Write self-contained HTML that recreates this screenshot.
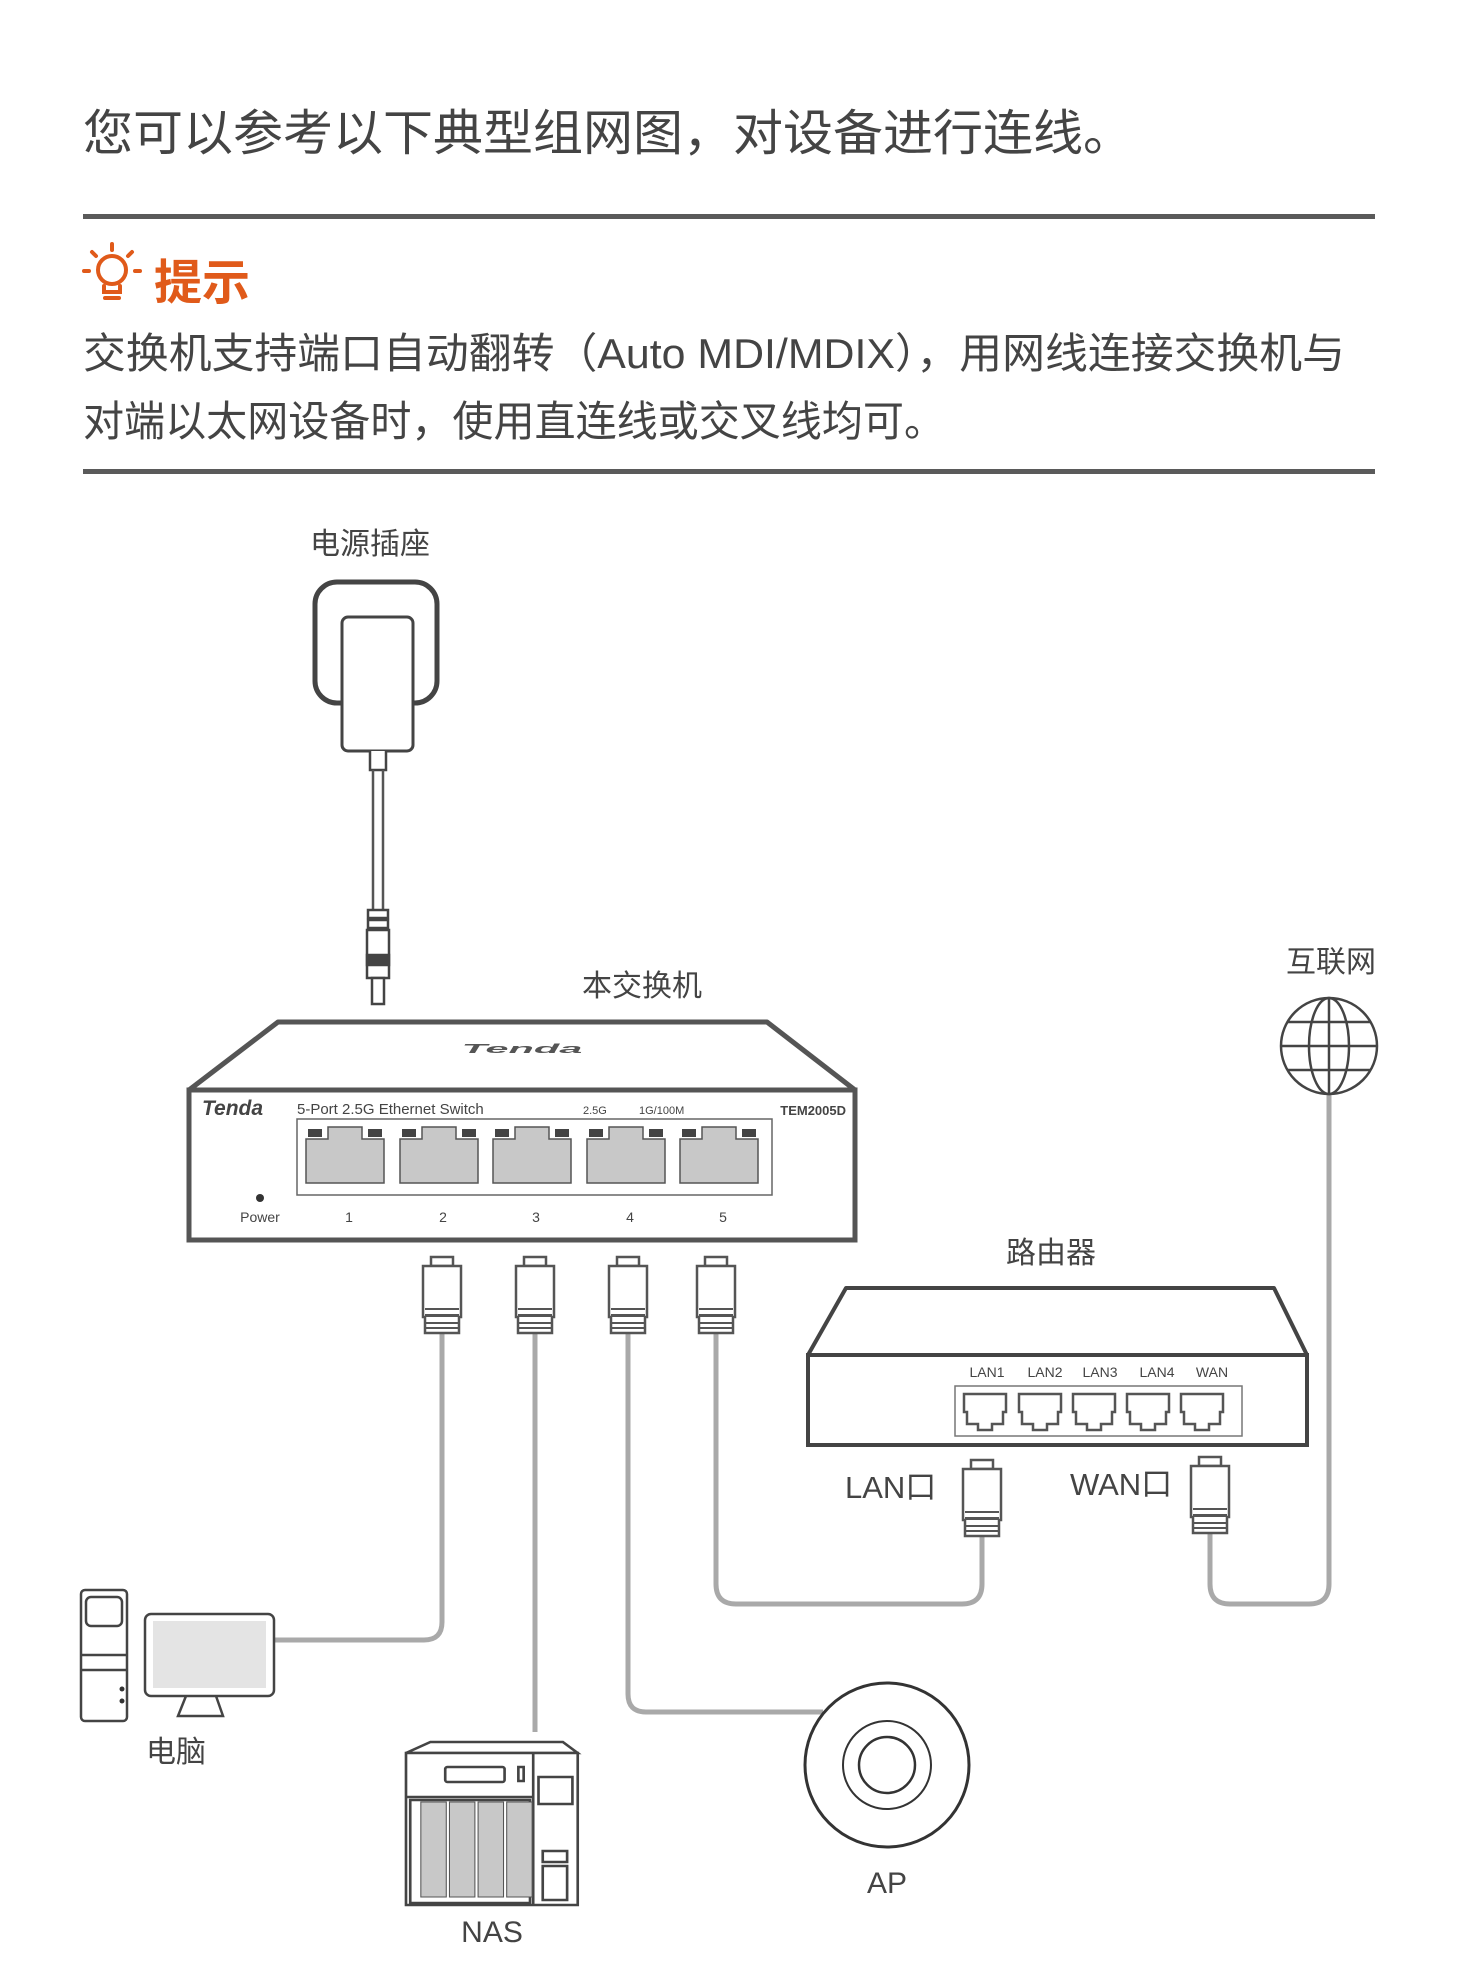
<!DOCTYPE html>
<html><head><meta charset="utf-8"><style>
html,body{margin:0;padding:0;background:#fff;}
svg{display:block;}
text{font-family:"Liberation Sans","Noto Sans CJK SC",sans-serif;fill:#444;}
</style></head><body>
<svg width="1458" height="1983" viewBox="0 0 1458 1983" xmlns="http://www.w3.org/2000/svg">
<defs>
<g id="plug">
 <path d="M-11 0 H11 V9 H-11 Z" fill="#fff" stroke="#555" stroke-width="2.5"/>
 <path d="M-19 9 H19 V60 H-19 Z" fill="#fff" stroke="#555" stroke-width="2.5"/>
 <path d="M-17 52 H17 M-17 58 H17 M-17 64 H17 M-17 70 H17" stroke="#555" stroke-width="2"/>
 <path d="M-17 60 V76 H17 V60" fill="#fff" stroke="#555" stroke-width="2.5"/>
 <path d="M-17 66 H17 M-17 71 H17" stroke="#555" stroke-width="2"/>
</g>
<g id="rport">
 <path d="M2 4 H44 V22 H41 V34 H30 V40 H16 V34 H5 V22 H2 Z" fill="#fff" stroke="#555" stroke-width="2.5"/>
</g>
<g id="sport">
 <path d="M0 14 H22 V2 H56 V14 H78 V58 H0 Z" fill="#c8c8c8" stroke="#555" stroke-width="1.5"/>
 <rect x="2" y="4" width="14" height="8" fill="#444"/>
 <rect x="62" y="4" width="14" height="8" fill="#444"/>
</g>
</defs>

<!-- header -->
<text x="83" y="150" font-size="49" textLength="1050" lengthAdjust="spacingAndGlyphs">您可以参考以下典型组网图，对设备进行连线。</text>
<rect x="83" y="214" width="1292" height="5" fill="#5a5a5a"/>
<!-- bulb -->
<g stroke="#e05a1a" stroke-width="4" fill="none" stroke-linecap="round">
 <circle cx="112" cy="270" r="14"/>
 <path d="M104 286 L104 292 H120 V286"/>
 <path d="M105 298 H119"/>
 <path d="M112 244 V250 M92 252 L96 256 M132 252 L128 256 M84 271 H89 M135 271 H140"/>
</g>
<text x="154" y="299" font-size="48" font-weight="bold" style="fill:#e05a1a">提示</text>
<text x="83" y="368" font-size="42" textLength="1262" lengthAdjust="spacingAndGlyphs">交换机支持端口自动翻转（Auto MDI/MDIX），用网线连接交换机与</text>
<text x="83" y="436" font-size="42" textLength="862" lengthAdjust="spacingAndGlyphs">对端以太网设备时，使用直连线或交叉线均可。</text>
<rect x="83" y="469" width="1292" height="5" fill="#5a5a5a"/>

<!-- power adapter -->
<text x="310" y="554" font-size="30">电源插座</text>
<rect x="315" y="582" width="122" height="121" rx="22" fill="#fff" stroke="#444" stroke-width="5"/>
<rect x="342" y="617" width="71" height="134" rx="6" fill="#fff" stroke="#444" stroke-width="3"/>
<path d="M370 751 V770 H386 V751" fill="#fff" stroke="#444" stroke-width="2.5"/>
<path d="M373 770 V910 M383 770 V910" stroke="#555" stroke-width="2.5"/>
<g fill="#fff" stroke="#444" stroke-width="2.5">
 <rect x="368" y="910" width="20" height="8"/><rect x="368" y="920" width="20" height="8"/>
 <rect x="367" y="930" width="22" height="48"/>
 <rect x="367" y="955" width="22" height="10" fill="#444"/>
 <rect x="372" y="978" width="12" height="26"/>
</g>

<!-- switch -->
<text x="582" y="996" font-size="30">本交换机</text>
<path d="M189 1090 L278 1022 H767 L855 1090" fill="#fff" stroke="#555" stroke-width="5" stroke-linejoin="round"/>
<text x="522" y="1056" font-size="26" font-style="italic" font-weight="bold" text-anchor="middle" style="fill:#555" transform="translate(522 1050) scale(1.6 0.5) translate(-522 -1050)">Tenda</text>
<rect x="189" y="1090" width="666" height="150" fill="#fff" stroke="#555" stroke-width="5"/>
<text x="202" y="1115" font-size="21" font-weight="bold" font-style="italic" style="fill:#444">Tenda</text>
<text x="297" y="1114" font-size="15">5-Port 2.5G Ethernet Switch</text>
<text x="583" y="1114" font-size="11">2.5G</text>
<text x="639" y="1114" font-size="11">1G/100M</text>
<text x="846" y="1115" font-size="13" font-weight="bold" text-anchor="end">TEM2005D</text>
<rect x="297" y="1119" width="475" height="76" fill="#fff" stroke="#666" stroke-width="1.5"/>
<use href="#sport" x="306" y="1125"/>
<use href="#sport" x="400" y="1125"/>
<use href="#sport" x="493" y="1125"/>
<use href="#sport" x="587" y="1125"/>
<use href="#sport" x="680" y="1125"/>
<circle cx="260" cy="1198" r="4" fill="#333"/>
<text x="260" y="1222" font-size="14" text-anchor="middle">Power</text>
<g font-size="14" text-anchor="middle">
<text x="349" y="1222">1</text><text x="443" y="1222">2</text><text x="536" y="1222">3</text><text x="630" y="1222">4</text><text x="723" y="1222">5</text></g>

<!-- cables -->
<g fill="none" stroke="#a9a9a9" stroke-width="5" stroke-linejoin="round">
 <path d="M442 1330 V1622 Q442 1640 424 1640 H274"/>
 <path d="M535 1330 V1732"/>
 <path d="M628 1330 V1694 Q628 1712 646 1712 H823"/>
 <path d="M716 1330 V1584 Q716 1604 736 1604 H962 Q982 1604 982 1584 V1534"/>
 <path d="M1329 1092 V1584 Q1329 1604 1309 1604 H1230 Q1210 1604 1210 1584 V1534"/>
</g>
<use href="#plug" x="442" y="1257"/>
<use href="#plug" x="535" y="1257"/>
<use href="#plug" x="628" y="1257"/>
<use href="#plug" x="716" y="1257"/>
<use href="#plug" x="982" y="1460"/>
<use href="#plug" x="1210" y="1457"/>

<!-- router -->
<text x="1051" y="1263" font-size="30" text-anchor="middle">路由器</text>
<path d="M808 1355 L846 1288 H1274 L1307 1355" fill="#fff" stroke="#444" stroke-width="4" stroke-linejoin="round"/>
<rect x="808" y="1355" width="499" height="90" fill="#fff" stroke="#444" stroke-width="4"/>
<g font-size="14" text-anchor="middle">
<text x="987" y="1377">LAN1</text><text x="1045" y="1377">LAN2</text><text x="1100" y="1377">LAN3</text><text x="1157" y="1377">LAN4</text><text x="1212" y="1377">WAN</text></g>
<rect x="955" y="1386" width="287" height="50" fill="#fff" stroke="#777" stroke-width="1.5"/>
<use href="#rport" x="962" y="1390"/>
<use href="#rport" x="1017" y="1390"/>
<use href="#rport" x="1071" y="1390"/>
<use href="#rport" x="1125" y="1390"/>
<use href="#rport" x="1179" y="1390"/>
<text x="845" y="1498" font-size="31">LAN口</text>
<text x="1070" y="1495" font-size="31">WAN口</text>

<!-- internet -->
<text x="1331" y="972" font-size="30" text-anchor="middle">互联网</text>
<g fill="none" stroke="#444" stroke-width="2.5">
 <circle cx="1329" cy="1046" r="48" fill="#fff"/>
 <ellipse cx="1329" cy="1046" rx="20" ry="48"/>
 <path d="M1329 998 V1094 M1281 1046 H1377 M1288 1022 H1370 M1288 1070 H1370"/>
</g>

<!-- computer -->
<g fill="#fff" stroke="#444" stroke-width="2.5">
 <rect x="81" y="1590" width="46" height="131" rx="4"/>
 <rect x="86" y="1597" width="36" height="29" rx="5"/>
 <path d="M81 1655 H127 M81 1670 H127"/>
 <path d="M186 1696 L178 1716 H223 L216 1696"/>
 <rect x="145" y="1614" width="129" height="82" rx="6"/>
</g>
<path d="M153 1621 H266 V1688 H153 Z" fill="#e4e4e4"/>
<circle cx="122" cy="1689" r="2.5" fill="#333"/><circle cx="122" cy="1701" r="2.5" fill="#333"/>
<text x="176" y="1762" font-size="30" text-anchor="middle">电脑</text>

<!-- NAS -->
<g transform="translate(406 0) scale(1.06 1) translate(-386 0)">
<g fill="#fff" stroke="#444" stroke-width="2.5">
 <path d="M386 1753 L409 1742 H534 L548 1753 Z"/>
 <rect x="386" y="1753" width="162" height="152"/>
 <path d="M386 1797 H506 M506 1753 V1905"/>
 <rect x="423" y="1767" width="56" height="15" rx="2"/>
 <rect x="492" y="1767" width="5" height="14"/>
 <rect x="511" y="1777" width="32" height="27"/>
 <rect x="515" y="1851" width="23" height="11"/>
 <rect x="515" y="1866" width="23" height="34"/>
 <rect x="390" y="1800" width="113" height="103"/>
</g>
<g fill="#c8c8c8" stroke="#555" stroke-width="1">
 <rect x="400" y="1802" width="24" height="95"/><rect x="427" y="1802" width="24" height="95"/>
 <rect x="454" y="1802" width="24" height="95"/><rect x="481" y="1802" width="24" height="95"/>
</g>
</g>
<text x="492" y="1942" font-size="30" text-anchor="middle">NAS</text>

<!-- AP -->
<g fill="#fff" stroke="#333">
 <circle cx="887" cy="1765" r="82" stroke-width="3"/>
 <circle cx="887" cy="1765" r="44" stroke-width="2"/>
 <circle cx="887" cy="1765" r="28" stroke-width="2.5"/>
</g>
<text x="887" y="1893" font-size="30" text-anchor="middle">AP</text>
</svg>
</body></html>
